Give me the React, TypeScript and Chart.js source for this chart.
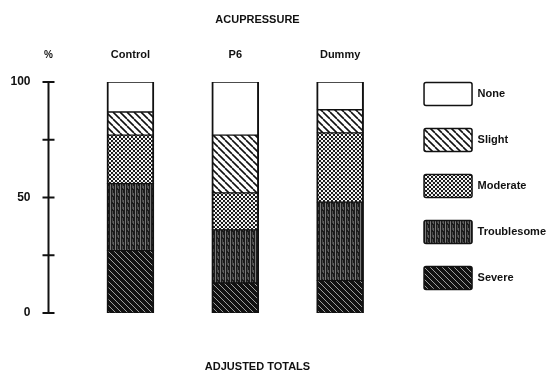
import React, { useEffect, useRef } from 'react';
import { Chart, registerables } from 'chart.js';
Chart.register(...registerables);

// ---- data ----
const categories = ['Control', 'P6', 'Dummy'];
const seriesNames = ['Severe', 'Troublesome', 'Moderate', 'Slight', 'None'];
const severe = [27, 13, 14];
const troublesome = [29, 23, 34];
const moderate = [21, 16, 30];
const slight = [10, 25, 10];
const none = [13, 23, 12];
const yTickValues = [0, 25, 50, 75, 100];
const yTickLabels = ['0', '', '50', '', '100'];
const yUnit = '%';
const titleText = 'ACUPRESSURE';
const subtitleText = 'ADJUSTED TOTALS';

// ---- layout constants ----
const OFF = 41; // canvas starts OFF px left of the page
const CW = 597;
const CH = 372;
const FONT = "'Liberation Sans', Arial, Helvetica, sans-serif";
const INK = '#111111';

function makePattern(kind: string): CanvasPattern | string {
  if (kind === 'None') return '#ffffff';
  const c = document.createElement('canvas');
  let ctx: CanvasRenderingContext2D;
  if (kind === 'Slight') {
    const s = 7;
    c.width = s; c.height = s;
    ctx = c.getContext('2d')!;
    ctx.fillStyle = '#ffffff'; ctx.fillRect(0, 0, s, s);
    ctx.strokeStyle = INK; ctx.lineWidth = 1.6;
    for (const o of [-s, 0, s]) { ctx.beginPath(); ctx.moveTo(o, 0); ctx.lineTo(o + s, s); ctx.stroke(); }
  } else if (kind === 'Severe') {
    const s = 6;
    c.width = s; c.height = s;
    ctx = c.getContext('2d')!;
    ctx.fillStyle = '#121212'; ctx.fillRect(0, 0, s, s);
    ctx.strokeStyle = '#b0b0b0'; ctx.lineWidth = 0.9;
    for (const o of [-s, 0, s]) { ctx.beginPath(); ctx.moveTo(o, 0); ctx.lineTo(o + s, s); ctx.stroke(); }
  } else if (kind === 'Moderate') {
    const s = 4;
    c.width = s; c.height = s;
    ctx = c.getContext('2d')!;
    ctx.fillStyle = '#ffffff'; ctx.fillRect(0, 0, s, s);
    ctx.fillStyle = INK;
    for (const [x, y] of [[1, 1], [3, 3]]) { ctx.beginPath(); ctx.arc(x, y, 1.15, 0, Math.PI * 2); ctx.fill(); }
  } else {
    c.width = 5; c.height = 7;
    ctx = c.getContext('2d')!;
    ctx.fillStyle = '#1c1c1c'; ctx.fillRect(0, 0, 5, 7);
    ctx.fillStyle = '#7a7a7a'; ctx.fillRect(1, 0, 1, 7);
    ctx.fillStyle = '#4a4a4a'; ctx.fillRect(3, 1, 1, 5);
    ctx.fillStyle = '#5e5e5e'; ctx.fillRect(4, 4, 1, 3);
  }
  return ctx.createPattern(c, 'repeat')!;
}

const yAxisPlugin = {
  id: 'crossingYAxis',
  afterDraw(chart: any) {
    const { ctx } = chart;
    const y = chart.scales.y;
    const ax = 48.5 + OFF;
    ctx.save();
    ctx.strokeStyle = INK;
    ctx.lineWidth = 2;
    ctx.beginPath();
    ctx.moveTo(ax, y.getPixelForValue(yTickValues[0]));
    ctx.lineTo(ax, y.getPixelForValue(yTickValues[yTickValues.length - 1]));
    ctx.stroke();
    ctx.font = `bold 12px ${FONT}`;
    ctx.fillStyle = INK;
    ctx.textBaseline = 'middle';
    yTickValues.forEach((v, i) => {
      const py = y.getPixelForValue(v);
      ctx.beginPath();
      ctx.moveTo(ax - 6, py);
      ctx.lineTo(ax + 6, py);
      ctx.stroke();
      if (yTickLabels[i]) {
        ctx.textAlign = 'right';
        ctx.fillText(yTickLabels[i], 30.5 + OFF, py);
      }
    });
    ctx.font = `bold 10px ${FONT}`;
    ctx.textAlign = 'center';
    ctx.fillText(yUnit, 48.5 + OFF, 55);
    ctx.restore();
  },
};

export default function App() {
  const ref = useRef<HTMLCanvasElement | null>(null);
  useEffect(() => {
    if (!ref.current) return;
    const seriesData = [severe, troublesome, moderate, slight, none];
    const chart = new Chart(ref.current, {
      type: 'bar',
      data: {
        labels: categories,
        datasets: seriesNames.map((name, i) => ({
          label: name,
          data: seriesData[i],
          backgroundColor: makePattern(name) as any,
          borderColor: INK,
          borderWidth: { left: 2, right: 2, top: 1, bottom: 1 } as any,
          borderSkipped: false,
          barThickness: 47,
          yAxisID: 'y',
        })),
      },
      options: {
        animation: false,
        responsive: false,
        maintainAspectRatio: false,
        layout: { padding: 0 },
        scales: {
          x: {
            position: 'top',
            stacked: true,
            grid: { display: false, drawTicks: false },
            border: { display: false },
            ticks: { padding: 20.4, color: INK, font: { family: FONT, size: 11, weight: 'bold', lineHeight: 1.2 } },
            afterFit: (s: any) => { s.height = 33.6; },
          },
          y: {
            display: false,
            position: 'left',
            stacked: true,
            min: 0,
            max: 100,
            ticks: { stepSize: 25 },
            afterFit: (s: any) => { s.width = 78 + OFF; },
          },
          y2: {
            display: false,
            position: 'right',
            afterFit: (s: any) => { s.width = 8.5; },
          },
        },
        plugins: {
          tooltip: { enabled: false },
          title: {
            display: true,
            text: titleText,
            color: INK,
            font: { family: FONT, size: 11, weight: 'bold', lineHeight: 1.2 },
            padding: { top: 13.7, bottom: 21.5 },
          },
          subtitle: {
            display: true,
            position: 'bottom',
            text: subtitleText,
            color: INK,
            font: { family: FONT, size: 11, weight: 'bold', lineHeight: 1 },
            padding: { top: 48, bottom: 0 },
          },
          legend: {
            position: 'right',
            align: 'center',
            reverse: true,
            labels: {
              boxWidth: 48,
              boxHeight: 23,
              padding: 23,
              color: INK,
              useBorderRadius: true,
              borderRadius: 2,
              font: { family: FONT, size: 11, weight: 'bold' },
            },
          },
        },
      } as any,
      plugins: [yAxisPlugin],
    });
    return () => chart.destroy();
  }, []);
  return (
    <div style={{ position: 'fixed', left: 0, top: 0, width: 550, height: 372, overflow: 'hidden', background: '#fff' }}>
      <canvas ref={ref} width={CW} height={CH} style={{ position: 'absolute', left: -OFF, top: 0, width: CW, height: CH }} />
    </div>
  );
}
